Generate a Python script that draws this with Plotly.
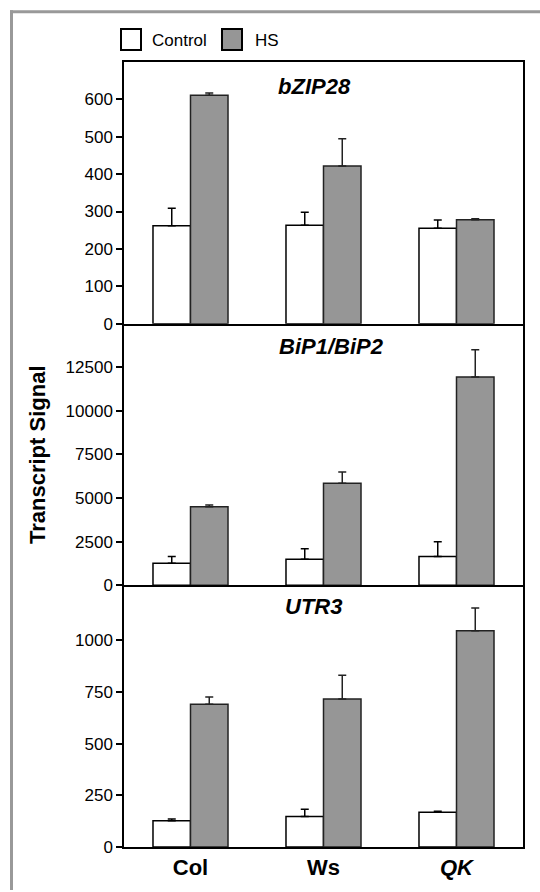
import plotly.graph_objects as go
from plotly.subplots import make_subplots

categories = ["Col", "Ws", "QK"]
tick_labels = ["<b>Col</b>", "<b>Ws</b>", "<b><i>QK</i></b>"]
panel_titles = ["bZIP28", "BiP1/BiP2", "UTR3"]

bzip28_control = [262, 263, 255]
bzip28_control_err = [47, 35, 22]
bzip28_hs = [611, 422, 278]
bzip28_hs_err = [6, 73, 3]

bip_control = [1260, 1500, 1650]
bip_control_err = [400, 600, 850]
bip_hs = [4500, 5850, 11950]
bip_hs_err = [100, 650, 1550]

utr3_control = [127, 148, 168]
utr3_control_err = [8, 35, 5]
utr3_hs = [690, 715, 1045]
utr3_hs_err = [35, 115, 110]

y_ranges = [[0, 700], [0, 15000], [0, 1265]]
y_tickvals = [
    [0, 100, 200, 300, 400, 500, 600],
    [0, 2500, 5000, 7500, 10000, 12500],
    [0, 250, 500, 750, 1000],
]

W, H = 540, 892
L, R, T, B = 124, 523, 62, 849

fig = make_subplots(rows=3, cols=1, shared_xaxes=True, vertical_spacing=0)

panels = [
    (bzip28_control, bzip28_control_err, bzip28_hs, bzip28_hs_err),
    (bip_control, bip_control_err, bip_hs, bip_hs_err),
    (utr3_control, utr3_control_err, utr3_hs, utr3_hs_err),
]

for i, (c, ce, h, he) in enumerate(panels):
    row = i + 1
    fig.add_trace(go.Bar(
        x=categories, y=c, name="Control", showlegend=False,
        marker=dict(color="white", line=dict(color="black", width=1.5)),
        error_y=dict(type="data", array=ce, arrayminus=[0] * 3, symmetric=False,
                     color="black", thickness=1.5, width=4),
    ), row=row, col=1)
    fig.add_trace(go.Bar(
        x=categories, y=h, name="HS", showlegend=False,
        marker=dict(color="#969696", line=dict(color="#222222", width=1.5)),
        error_y=dict(type="data", array=he, arrayminus=[0] * 3, symmetric=False,
                     color="#222222", thickness=1.5, width=4),
    ), row=row, col=1)
    fig.update_yaxes(
        range=y_ranges[i], tickmode="array",
        tickvals=y_tickvals[i], ticktext=[str(v) for v in y_tickvals[i]],
        ticks="outside", ticklen=6, tickwidth=1.5, tickcolor="black",
        showline=True, linecolor="black", linewidth=1.5, mirror=True,
        showgrid=False, zeroline=False,
        tickfont=dict(family="Liberation Sans, Arial", size=17, color="black"),
        row=row, col=1)
    fig.update_xaxes(
        showline=True, linecolor="black", linewidth=1.5, mirror=(row == 1),
        showgrid=False, ticks="", showticklabels=(row == 3),
        tickmode="array", tickvals=categories, ticktext=tick_labels,
        tickfont=dict(family="Liberation Sans, Arial", size=22, color="black"),
        row=row, col=1)

def px_x(px):
    return (px - L) / (R - L)

def px_y(py):
    return (B - py) / (B - T)

annotations = []
title_pos = [(314, 87), (331, 347), (313, 608)]
for t, (tx, ty) in zip(panel_titles, title_pos):
    annotations.append(dict(
        text="<b><i>%s</i></b>" % t, x=px_x(tx), y=px_y(ty), xref="paper", yref="paper",
        showarrow=False, xanchor="center", yanchor="middle",
        font=dict(family="Liberation Sans, Arial", size=22, color="black")))

annotations.append(dict(
    text="<b>Transcript Signal</b>", x=px_x(38), y=px_y(456), xref="paper", yref="paper",
    showarrow=False, textangle=-90, xanchor="center", yanchor="middle",
    font=dict(family="Liberation Sans, Arial", size=22, color="black")))

legend_items = [("Control", "white", 121, 150), ("HS", "#969696", 222, 253)]
shapes = []
for name, color, bx, tx in legend_items:
    shapes.append(dict(type="rect", xref="paper", yref="paper",
                       x0=px_x(bx), x1=px_x(bx + 20), y0=px_y(50), y1=px_y(29),
                       fillcolor=color, line=dict(color="black", width=2)))
    annotations.append(dict(
        text=name, x=px_x(tx), y=px_y(40), xref="paper", yref="paper",
        showarrow=False, xanchor="left", yanchor="middle",
        font=dict(family="Liberation Sans, Arial", size=17, color="black")))

# grey frame around the figure
shapes.append(dict(type="line", xref="paper", yref="paper",
                   x0=px_x(11.5), x1=px_x(11.5), y0=px_y(892), y1=px_y(10),
                   line=dict(color="#999999", width=3)))
shapes.append(dict(type="line", xref="paper", yref="paper",
                   x0=px_x(10), x1=px_x(540), y0=px_y(11.5), y1=px_y(11.5),
                   line=dict(color="#999999", width=3)))

fig.update_layout(
    width=W, height=H,
    margin=dict(l=L, r=W - R, t=T, b=H - B),
    barmode="group", bargap=0.436, bargroupgap=0,
    plot_bgcolor="white", paper_bgcolor="white",
    annotations=annotations, shapes=shapes,
    showlegend=False,
)

fig.write_html(
    "out.html",
    config={"displayModeBar": False},
    post_script="document.body.style.margin='0';document.body.style.overflow='hidden';",
)
